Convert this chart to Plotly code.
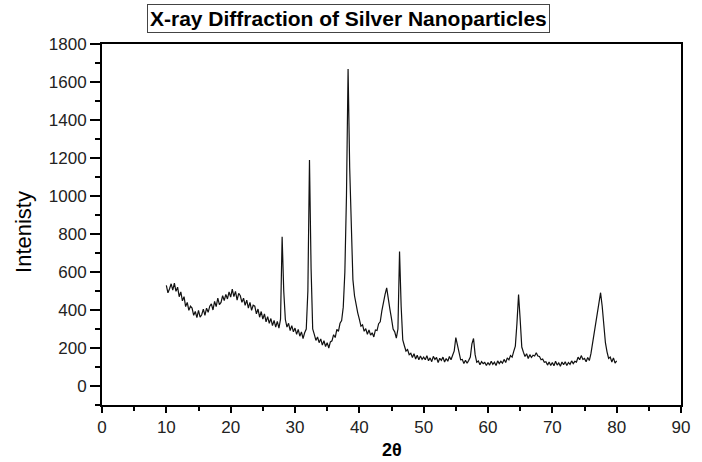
import numpy as np
import plotly.graph_objects as go

# 2-theta scan from 10 to 80 degrees, step 0.25
theta_start = 10.0
theta_step = 0.25

# intensities, 4 samples per degree
i_10_20 = [530, 490, 512, 538, 505, 542, 498, 520, 470, 495, 448, 470,
           418, 440, 398, 420, 410, 372, 392, 360, 398, 362, 375, 405,
           372, 410, 388, 420, 432, 400, 445, 418, 462, 428, 440, 475,
           450, 482, 458, 495]
i_20_30 = [468, 510, 470, 498, 452, 488, 475, 440, 462, 425, 452, 410,
           440, 398, 425, 420, 380, 405, 362, 392, 352, 380, 338, 365,
           330, 355, 318, 345, 310, 340, 305, 352, 785, 500, 350, 310,
           330, 292, 318, 285]
i_30_40 = [305, 272, 298, 262, 285, 250, 280, 300, 500, 1190, 620, 300,
           272, 240, 258, 228, 248, 215, 238, 208, 228, 200, 232, 238,
           270, 255, 298, 288, 330, 345, 415, 600, 1000, 1668, 1150, 800,
           560, 475, 418, 385]
i_40_50 = [352, 315, 322, 288, 302, 272, 295, 268, 280, 258, 295, 292,
           328, 338, 395, 450, 482, 516, 470, 405, 355, 300, 285, 252,
           300, 708, 420, 242, 212, 184, 192, 165, 172, 150, 170, 142,
           162, 138, 158, 140]
i_50_60 = [152, 138, 160, 133, 148, 128, 156, 140, 150, 124, 146, 135,
           152, 126, 145, 130, 155, 138, 162, 185, 255, 215, 165, 138,
           140, 118, 136, 120, 135, 152, 222, 250, 165, 125, 132, 112,
           128, 118, 124, 108]
i_60_70 = [124, 110, 130, 114, 125, 108, 132, 118, 130, 120, 140, 124,
           148, 138, 160, 152, 182, 210, 330, 481, 350, 205, 178, 155,
           170, 145, 165, 150, 162, 158, 175, 158, 155, 138, 142, 125,
           128, 110, 126, 108]
i_70_80 = [124, 106, 130, 110, 122, 104, 126, 112, 128, 108, 124, 114,
           132, 118, 130, 126, 152, 138, 160, 140, 145, 128, 150, 134,
           170, 220, 285, 330, 375, 440, 491, 420, 295, 228, 180, 145,
           152, 126, 148, 120, 132]

intensity = i_10_20 + i_20_30 + i_30_40 + i_40_50 + i_50_60 + i_60_70 + i_70_80
two_theta = theta_start + theta_step * np.arange(len(intensity))

x_ticks = [0, 10, 20, 30, 40, 50, 60, 70, 80, 90]
y_ticks = [0, 200, 400, 600, 800, 1000, 1200, 1400, 1600, 1800]

title_text = "X-ray Diffraction of Silver Nanoparticles"
x_label = "2θ"
y_label = "Intenisty"

fig = go.Figure()
fig.add_trace(go.Scatter(x=two_theta, y=intensity, mode="lines",
                         line=dict(color="#111111", width=1.2), showlegend=False))

tickfont = dict(family="Liberation Sans, Arial, sans-serif", size=17, color="#222222")
fig.update_layout(
    width=702, height=462,
    margin=dict(l=102, r=14, t=44, b=57),
    paper_bgcolor="white", plot_bgcolor="white",
    xaxis=dict(range=[0, 90], tickvals=x_ticks, ticktext=[str(v) for v in x_ticks],
               showgrid=False, zeroline=False, showline=True, linecolor="black",
               linewidth=2, mirror=True, ticks="outside", ticklen=6, tickwidth=2,
               tickcolor="black", tickfont=tickfont,
               minor=dict(ticks="outside", dtick=5, tick0=0, ticklen=4, tickwidth=2,
                          tickcolor="black", showgrid=False)),
    yaxis=dict(range=[-100, 1800], tickvals=y_ticks, ticktext=[str(v) for v in y_ticks],
               showgrid=False, zeroline=False, showline=True, linecolor="black",
               linewidth=2, mirror=True, ticks="outside", ticklen=10, tickwidth=2,
               tickcolor="black", tickfont=tickfont,
               minor=dict(ticks="outside", dtick=100, tick0=0, ticklen=5, tickwidth=2,
                          tickcolor="black", showgrid=False)),
    annotations=[
        dict(text="<b>" + title_text + "</b>", xref="paper", yref="paper",
             x=(351 - 102) / 586, y=(405 - 18) / 361, xanchor="center", yanchor="middle",
             showarrow=False, bordercolor="#444444", borderwidth=1, borderpad=2,
             bgcolor="white",
             font=dict(family="Liberation Sans, Arial, sans-serif", size=21, color="black")),
        dict(text="<b>" + x_label + "</b>", xref="paper", yref="paper",
             x=(395 - 102) / 586, y=(405 - 450) / 361, xanchor="center", yanchor="middle",
             showarrow=False,
             font=dict(family="Liberation Sans, Arial, sans-serif", size=18, color="black")),
        dict(text=y_label, xref="paper", yref="paper",
             x=(22 - 102) / 586, y=(405 - 232) / 361, xanchor="center", yanchor="middle",
             textangle=-90, showarrow=False,
             font=dict(family="Liberation Sans Narrow, Liberation Sans, Arial, sans-serif",
                       size=22, color="black")),
    ],
)

fig.write_html("out.html", config={"displayModeBar": False},
               post_script="document.body.style.margin='0';")
